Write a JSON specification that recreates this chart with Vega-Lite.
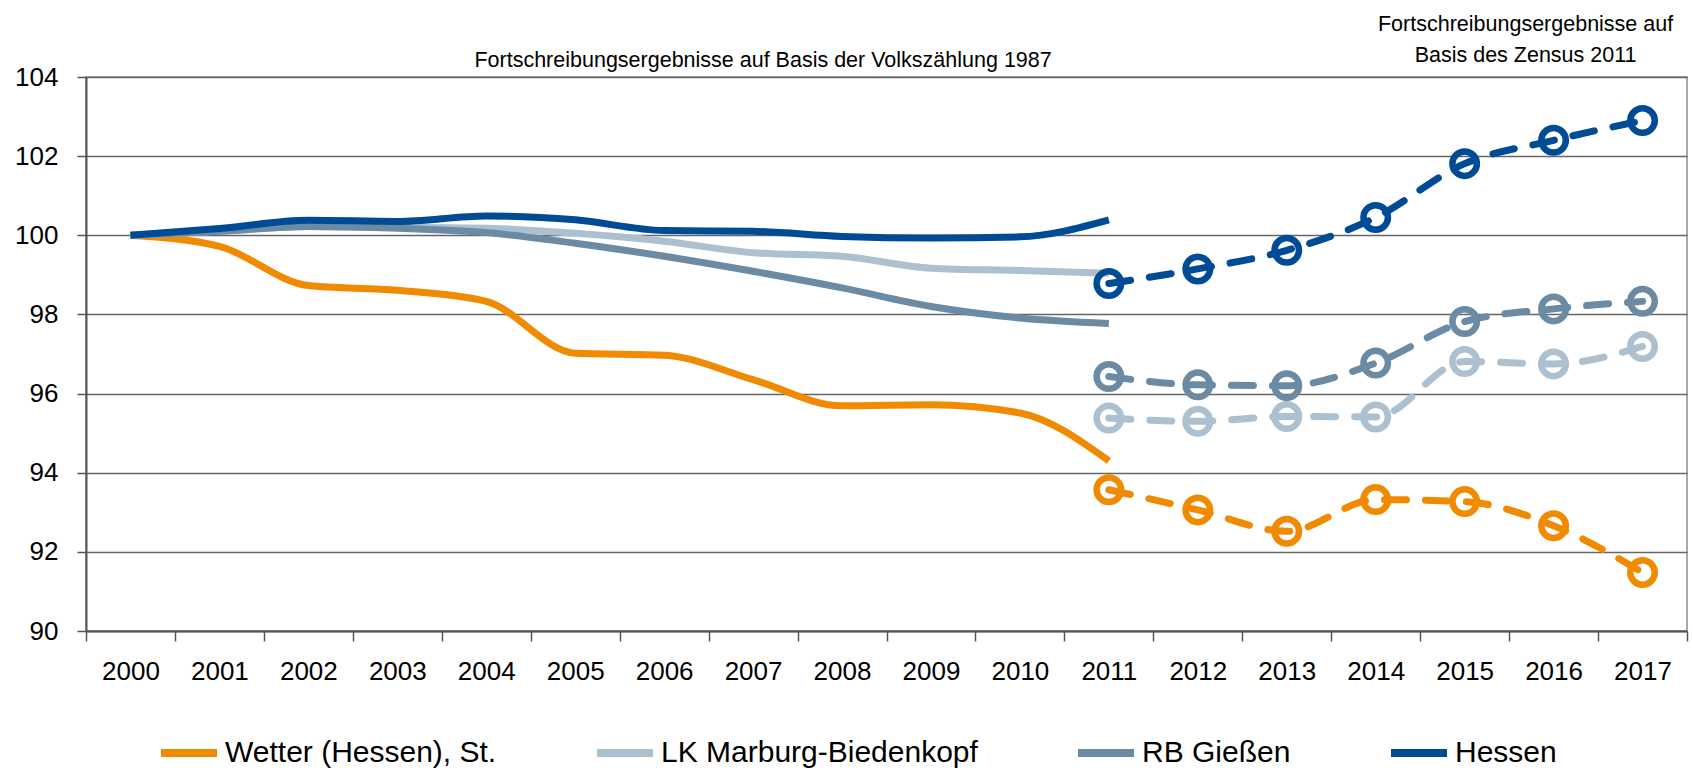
{
  "$schema": "https://vega.github.io/schema/vega-lite/v6.json",
  "width": 1601,
  "height": 554,
  "autosize": {"type": "none"},
  "padding": {"left": 86, "top": 77, "right": 6, "bottom": 141},
  "background": "white",
  "config": {
    "view": {"stroke": "#8c8c8c", "strokeWidth": 1.5},
    "font": "Liberation Sans"
  },
  "datasets": {
    "series": [
      {"year": 2000, "region": "Wetter (Hessen), St.", "basis": "VZ", "value": 100},
      {"year": 2001, "region": "Wetter (Hessen), St.", "basis": "VZ", "value": 99.72},
      {"year": 2002, "region": "Wetter (Hessen), St.", "basis": "VZ", "value": 98.73},
      {"year": 2003, "region": "Wetter (Hessen), St.", "basis": "VZ", "value": 98.61},
      {"year": 2004, "region": "Wetter (Hessen), St.", "basis": "VZ", "value": 98.33},
      {"year": 2005, "region": "Wetter (Hessen), St.", "basis": "VZ", "value": 97.02},
      {"year": 2006, "region": "Wetter (Hessen), St.", "basis": "VZ", "value": 96.97},
      {"year": 2007, "region": "Wetter (Hessen), St.", "basis": "VZ", "value": 96.35},
      {"year": 2008, "region": "Wetter (Hessen), St.", "basis": "VZ", "value": 95.69},
      {"year": 2009, "region": "Wetter (Hessen), St.", "basis": "VZ", "value": 95.72},
      {"year": 2010, "region": "Wetter (Hessen), St.", "basis": "VZ", "value": 95.51},
      {"year": 2011, "region": "Wetter (Hessen), St.", "basis": "VZ", "value": 94.3},
      {"year": 2000, "region": "LK Marburg-Biedenkopf", "basis": "VZ", "value": 100},
      {"year": 2001, "region": "LK Marburg-Biedenkopf", "basis": "VZ", "value": 100.1},
      {"year": 2002, "region": "LK Marburg-Biedenkopf", "basis": "VZ", "value": 100.22},
      {"year": 2003, "region": "LK Marburg-Biedenkopf", "basis": "VZ", "value": 100.2},
      {"year": 2004, "region": "LK Marburg-Biedenkopf", "basis": "VZ", "value": 100.18},
      {"year": 2005, "region": "LK Marburg-Biedenkopf", "basis": "VZ", "value": 100.05},
      {"year": 2006, "region": "LK Marburg-Biedenkopf", "basis": "VZ", "value": 99.85},
      {"year": 2007, "region": "LK Marburg-Biedenkopf", "basis": "VZ", "value": 99.56},
      {"year": 2008, "region": "LK Marburg-Biedenkopf", "basis": "VZ", "value": 99.47},
      {"year": 2009, "region": "LK Marburg-Biedenkopf", "basis": "VZ", "value": 99.17},
      {"year": 2010, "region": "LK Marburg-Biedenkopf", "basis": "VZ", "value": 99.11},
      {"year": 2011, "region": "LK Marburg-Biedenkopf", "basis": "VZ", "value": 99.04},
      {"year": 2000, "region": "RB Gießen", "basis": "VZ", "value": 100},
      {"year": 2001, "region": "RB Gießen", "basis": "VZ", "value": 100.1},
      {"year": 2002, "region": "RB Gießen", "basis": "VZ", "value": 100.22},
      {"year": 2003, "region": "RB Gießen", "basis": "VZ", "value": 100.18},
      {"year": 2004, "region": "RB Gießen", "basis": "VZ", "value": 100.07},
      {"year": 2005, "region": "RB Gießen", "basis": "VZ", "value": 99.8},
      {"year": 2006, "region": "RB Gießen", "basis": "VZ", "value": 99.47},
      {"year": 2007, "region": "RB Gießen", "basis": "VZ", "value": 99.09},
      {"year": 2008, "region": "RB Gießen", "basis": "VZ", "value": 98.67},
      {"year": 2009, "region": "RB Gießen", "basis": "VZ", "value": 98.2},
      {"year": 2010, "region": "RB Gießen", "basis": "VZ", "value": 97.91},
      {"year": 2011, "region": "RB Gießen", "basis": "VZ", "value": 97.77},
      {"year": 2000, "region": "Hessen", "basis": "VZ", "value": 100},
      {"year": 2001, "region": "Hessen", "basis": "VZ", "value": 100.17},
      {"year": 2002, "region": "Hessen", "basis": "VZ", "value": 100.38},
      {"year": 2003, "region": "Hessen", "basis": "VZ", "value": 100.35},
      {"year": 2004, "region": "Hessen", "basis": "VZ", "value": 100.49},
      {"year": 2005, "region": "Hessen", "basis": "VZ", "value": 100.39},
      {"year": 2006, "region": "Hessen", "basis": "VZ", "value": 100.12},
      {"year": 2007, "region": "Hessen", "basis": "VZ", "value": 100.1},
      {"year": 2008, "region": "Hessen", "basis": "VZ", "value": 99.97},
      {"year": 2009, "region": "Hessen", "basis": "VZ", "value": 99.93},
      {"year": 2010, "region": "Hessen", "basis": "VZ", "value": 99.96},
      {"year": 2011, "region": "Hessen", "basis": "VZ", "value": 100.39},
      {"year": 2011, "region": "Wetter (Hessen), St.", "basis": "Zensus", "value": 93.57},
      {"year": 2012, "region": "Wetter (Hessen), St.", "basis": "Zensus", "value": 93.06},
      {"year": 2013, "region": "Wetter (Hessen), St.", "basis": "Zensus", "value": 92.52},
      {"year": 2014, "region": "Wetter (Hessen), St.", "basis": "Zensus", "value": 93.32},
      {"year": 2015, "region": "Wetter (Hessen), St.", "basis": "Zensus", "value": 93.27},
      {"year": 2016, "region": "Wetter (Hessen), St.", "basis": "Zensus", "value": 92.66},
      {"year": 2017, "region": "Wetter (Hessen), St.", "basis": "Zensus", "value": 91.48},
      {"year": 2011, "region": "LK Marburg-Biedenkopf", "basis": "Zensus", "value": 95.38},
      {"year": 2012, "region": "LK Marburg-Biedenkopf", "basis": "Zensus", "value": 95.3},
      {"year": 2013, "region": "LK Marburg-Biedenkopf", "basis": "Zensus", "value": 95.42},
      {"year": 2014, "region": "LK Marburg-Biedenkopf", "basis": "Zensus", "value": 95.41},
      {"year": 2015, "region": "LK Marburg-Biedenkopf", "basis": "Zensus", "value": 96.81},
      {"year": 2016, "region": "LK Marburg-Biedenkopf", "basis": "Zensus", "value": 96.75},
      {"year": 2017, "region": "LK Marburg-Biedenkopf", "basis": "Zensus", "value": 97.19},
      {"year": 2011, "region": "RB Gießen", "basis": "Zensus", "value": 96.43},
      {"year": 2012, "region": "RB Gießen", "basis": "Zensus", "value": 96.22},
      {"year": 2013, "region": "RB Gießen", "basis": "Zensus", "value": 96.2},
      {"year": 2014, "region": "RB Gießen", "basis": "Zensus", "value": 96.77},
      {"year": 2015, "region": "RB Gießen", "basis": "Zensus", "value": 97.82},
      {"year": 2016, "region": "RB Gießen", "basis": "Zensus", "value": 98.14},
      {"year": 2017, "region": "RB Gießen", "basis": "Zensus", "value": 98.33},
      {"year": 2011, "region": "Hessen", "basis": "Zensus", "value": 98.78},
      {"year": 2012, "region": "Hessen", "basis": "Zensus", "value": 99.15},
      {"year": 2013, "region": "Hessen", "basis": "Zensus", "value": 99.62},
      {"year": 2014, "region": "Hessen", "basis": "Zensus", "value": 100.45},
      {"year": 2015, "region": "Hessen", "basis": "Zensus", "value": 101.81},
      {"year": 2016, "region": "Hessen", "basis": "Zensus", "value": 102.4},
      {"year": 2017, "region": "Hessen", "basis": "Zensus", "value": 102.9}
    ],
    "notes": [
      {"label": "Fortschreibungsergebnisse auf Basis der Volkszählung 1987", "year": 2007, "pos": 104.26, "group": "left"},
      {"label": "Fortschreibungsergebnisse auf", "year": 2016, "pos": 105.15, "group": "right"},
      {"label": "Basis des Zensus 2011", "year": 2016, "pos": 104.39, "group": "right"}
    ]
  },
  "encoding": {
    "x": {
      "field": "year",
      "type": "ordinal",
      "scale": {"type": "band", "domain": [2000, 2001, 2002, 2003, 2004, 2005, 2006, 2007, 2008, 2009, 2010, 2011, 2012, 2013, 2014, 2015, 2016, 2017], "paddingInner": 0, "paddingOuter": 0},
      "axis": {
        "title": null,
        "tickBand": "extent",
        "grid": false,
        "labelAngle": 0,
        "domainColor": "#555555",
        "domainWidth": 2,
        "tickColor": "#555555",
        "tickWidth": 1.5,
        "tickSize": 10,
        "labelFont": "Liberation Sans",
        "labelFontSize": 26,
        "labelColor": "#000000",
        "labelPadding": 17
      }
    },
    "y": {
      "field": "value",
      "type": "quantitative",
      "scale": {"domain": [90, 104], "nice": false, "zero": false},
      "axis": {
        "title": null,
        "values": [90, 92, 94, 96, 98, 100, 102, 104],
        "grid": true,
        "gridColor": "#666666",
        "gridWidth": 1.3,
        "domainColor": "#555555",
        "domainWidth": 2,
        "tickColor": "#555555",
        "tickWidth": 1.5,
        "tickSize": 9,
        "labelFont": "Liberation Sans",
        "labelFontSize": 26,
        "labelColor": "#000000",
        "labelPadding": 19
      }
    }
  },
  "layer": [
    {
      "data": {"name": "series"},
      "transform": [{"filter": "datum.basis === 'VZ'"}],
      "mark": {"type": "line", "strokeWidth": 7, "interpolate": "monotone"},
      "encoding": {
        "color": {
          "field": "region",
          "type": "nominal",
          "scale": {
            "domain": ["Wetter (Hessen), St.", "LK Marburg-Biedenkopf", "RB Gießen", "Hessen"],
            "range": ["#F08A00", "#ADC0D0", "#6B8BA5", "#004B96"]
          },
          "legend": {
            "orient": "none",
            "legendX": 71,
            "legendY": 644,
            "direction": "horizontal",
            "title": null,
            "symbolType": "stroke",
            "symbolSize": 3136,
            "symbolStrokeWidth": 8,
            "labelFont": "Liberation Sans",
            "labelFontSize": 30,
            "labelColor": "#000000",
            "labelLimit": 800,
            "labelOffset": 4,
            "columnPadding": 84
          }
        }
      }
    },
    {
      "data": {"name": "series"},
      "transform": [{"filter": "datum.basis === 'Zensus'"}],
      "mark": {"type": "line", "strokeWidth": 7, "interpolate": "monotone", "strokeDash": [22, 19], "strokeCap": "round"},
      "encoding": {
        "color": {"field": "region", "type": "nominal", "legend": null}
      }
    },
    {
      "data": {"name": "series"},
      "transform": [{"filter": "datum.basis === 'Zensus'"}],
      "mark": {"type": "point", "shape": "circle", "filled": false, "size": 600, "strokeWidth": 6.5, "opacity": 1},
      "encoding": {
        "color": {"field": "region", "type": "nominal", "legend": null}
      }
    },
    {
      "data": {"name": "notes"},
      "transform": [{"filter": "datum.group === 'left'"}],
      "mark": {"type": "text", "font": "Liberation Sans", "fontSize": 21.5, "color": "#000000", "align": "center", "baseline": "alphabetic", "dx": 10},
      "encoding": {
        "y": {"field": "pos", "type": "quantitative"},
        "text": {"field": "label"}
      }
    },
    {
      "data": {"name": "notes"},
      "transform": [{"filter": "datum.group === 'right'"}],
      "mark": {"type": "text", "font": "Liberation Sans", "fontSize": 21.5, "color": "#000000", "align": "center", "baseline": "alphabetic", "dx": -28},
      "encoding": {
        "y": {"field": "pos", "type": "quantitative"},
        "text": {"field": "label"}
      }
    }
  ]
}
